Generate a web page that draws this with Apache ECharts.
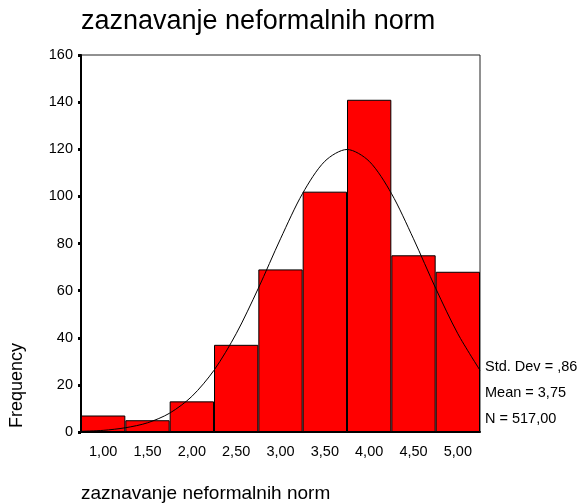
<!DOCTYPE html>
<html>
<head>
<meta charset="utf-8">
<script src="https://cdn.jsdelivr.net/npm/echarts@6/dist/echarts.min.js"></script>
<style>html,body{margin:0;padding:0;background:#fff}#c{width:581px;height:504px}</style>
</head>
<body>
<div id="c"></div>
<script>
const categories = ['1,00','1,50','2,00','2,50','3,00','3,50','4,00','4,50','5,00'];
const frequencies = [7, 5, 13, 37, 69, 102, 141, 75, 68];
const curveX = [0.75,1.0,1.25,1.5,1.75,2.0,2.25,2.5,2.75,3.0,3.25,3.5,3.75,4.0,4.25,4.5,4.75,5.0,5.25];
const curveY = [0.3,0.7,1.8,3.9,8.0,15.1,26.2,41.7,61.0,82.0,101.3,114.9,119.9,114.9,101.3,82.0,61.0,41.7,26.2];
const yTicks = [0,20,40,60,80,100,120,140,160];
const statsLines = ['Std. Dev = ,86','Mean = 3,75','N = 517,00'];
const titleText = 'zaznavanje neformalnih norm';
const xTitle = 'zaznavanje neformalnih norm';
const yTitle = 'Frequency';

const FONT = '"Liberation Sans", Arial, sans-serif';
const chart = echarts.init(document.getElementById('c'), null, {renderer:'canvas'});
chart.setOption({
  animation: false,
  backgroundColor: '#fff',
  grid: {left: 81, top: 55, right: 101, bottom: 72, show: true, borderColor: '#222', borderWidth: 1, backgroundColor: 'transparent'},
  xAxis: [{
    type: 'category', data: categories, gridIndex: 0,
    axisLine: {lineStyle: {color: '#000', width: 2}},
    axisTick: {alignWithLabel: true, length: 3, lineStyle: {color: '#000', width: 3}},
    axisLabel: {color: '#000', fontFamily: FONT, fontSize: 14.5, margin: 12},
    splitLine: {show: false}
  }, {
    type: 'value', min: 0.75, max: 5.25, show: false, gridIndex: 0
  }],
  yAxis: {
    type: 'value', min: yTicks[0], max: yTicks[yTicks.length-1], interval: 20,
    axisLine: {show: true, lineStyle: {color: '#000', width: 2}},
    axisTick: {show: true, length: 3, lineStyle: {color: '#000', width: 3}},
    axisLabel: {color: '#000', fontFamily: FONT, fontSize: 14.5, margin: 8},
    splitLine: {show: false}
  },
  series: [{
    type: 'bar', xAxisIndex: 0, data: frequencies, barCategoryGap: 0,
    itemStyle: {color: '#ff0000', borderColor: '#000', borderWidth: 1}
  }, {
    type: 'line', xAxisIndex: 1, data: curveX.map((x,i)=>[x, curveY[i]]),
    smooth: 0.3, showSymbol: false, symbol: 'none',
    lineStyle: {color: '#000', width: 1}, z: 5
  }],
  graphic: [
    {type:'text', left: 81, top: 8, style:{text: titleText, font: '27px ' + FONT, fill:'#000'}},
    {type:'text', left: 81, top: 484, style:{text: xTitle, font: '19px ' + FONT, fill:'#000'}},
    {type:'text', x: 8, y: 428, rotation: Math.PI/2, style:{text: yTitle, font: '18px ' + FONT, fill:'#000'}},
    {type:'text', left: 485, top: 359, style:{text: statsLines[0], font: '14.5px ' + FONT, fill:'#000'}},
    {type:'text', left: 485, top: 385, style:{text: statsLines[1], font: '14.5px ' + FONT, fill:'#000'}},
    {type:'text', left: 485, top: 411, style:{text: statsLines[2], font: '14.5px ' + FONT, fill:'#000'}}
  ]
});
</script>
</body>
</html>
